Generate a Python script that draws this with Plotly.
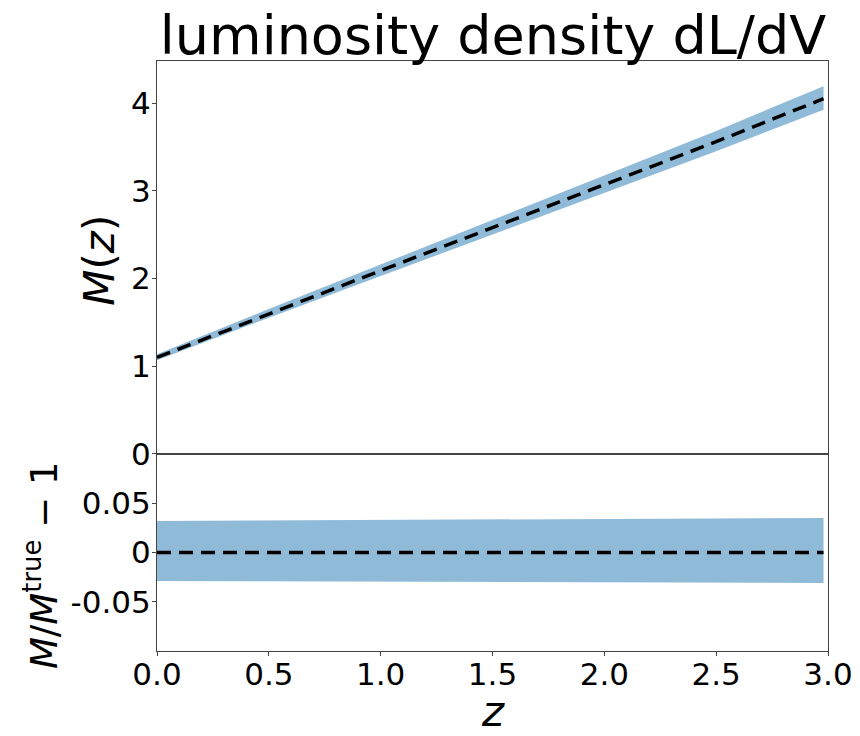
import plotly.graph_objects as go
from plotly.subplots import make_subplots

z = [0.0, 0.5, 1.0, 1.5, 2.0, 2.5, 2.98]
M_true = [1.10, 1.60, 2.09, 2.58, 3.07, 3.56, 4.05]
res_upper = [0.032, 0.0325, 0.033, 0.0335, 0.034, 0.0345, 0.035]
res_lower = [-0.029, -0.0293, -0.0297, -0.030, -0.0303, -0.0307, -0.031]
res_line = [0.0, 0.0, 0.0, 0.0, 0.0, 0.0, 0.0]

x_ticks = [0.0, 0.5, 1.0, 1.5, 2.0, 2.5, 3.0]
x_ticklabels = ["0.0", "0.5", "1.0", "1.5", "2.0", "2.5", "3.0"]
top_ticks = [0, 1, 2, 3, 4]
bot_ticks = [-0.05, 0, 0.05]
bot_ticklabels = ["-0.05", "0", "0.05"]

band_col = "rgba(31,119,180,0.5)"
font = "DejaVu Sans"

M_up = [m * (1 + u) for m, u in zip(M_true, res_upper)]
M_lo = [m * (1 + l) for m, l in zip(M_true, res_lower)]

fig = make_subplots(rows=2, cols=1, shared_xaxes=True, vertical_spacing=0,
                    row_heights=[0.666, 0.334])

fig.add_trace(go.Scatter(x=z, y=M_lo, mode="lines", line=dict(width=0),
                         showlegend=False, hoverinfo="skip"), row=1, col=1)
fig.add_trace(go.Scatter(x=z, y=M_up, mode="lines", line=dict(width=0),
                         fill="tonexty", fillcolor=band_col,
                         showlegend=False), row=1, col=1)
fig.add_trace(go.Scatter(x=z, y=M_true, mode="lines",
                         line=dict(color="black", width=3.5, dash="14px,8px"),
                         showlegend=False), row=1, col=1)

fig.add_trace(go.Scatter(x=z, y=res_lower, mode="lines", line=dict(width=0),
                         showlegend=False, hoverinfo="skip"), row=2, col=1)
fig.add_trace(go.Scatter(x=z, y=res_upper, mode="lines", line=dict(width=0),
                         fill="tonexty", fillcolor=band_col,
                         showlegend=False), row=2, col=1)
fig.add_trace(go.Scatter(x=z, y=res_line, mode="lines",
                         line=dict(color="black", width=3.5, dash="14px,8px"),
                         showlegend=False), row=2, col=1)

axis_common = dict(showline=True, mirror=True, linecolor="#444", linewidth=1.2,
                   showgrid=False, zeroline=False, ticks="outside", ticklen=4,
                   tickcolor="#444", automargin=False,
                   tickfont=dict(family=font, size=31, color="black"))

fig.update_xaxes(range=[0, 3.0], **axis_common)
fig.update_xaxes(showticklabels=False, ticks="", row=1, col=1)
fig.update_xaxes(tickvals=x_ticks, ticktext=x_ticklabels, ticklabelstandoff=-8,
                 row=2, col=1)
fig.update_yaxes(range=[0, 4.48], tickvals=top_ticks, row=1, col=1, **axis_common)
fig.update_yaxes(range=[-0.1, 0.1], tickvals=bot_ticks, ticktext=bot_ticklabels,
                 row=2, col=1, **axis_common)
fig.update_yaxes(ticklabelstandoff=-5)

fig.update_layout(
    width=860, height=736,
    margin=dict(l=149, r=40, t=53, b=93),
    plot_bgcolor="white", paper_bgcolor="white",
    title=dict(text="luminosity density dL/dV", x=0.564, xanchor="center",
               y=0.9636, yanchor="middle",
               font=dict(family=font, size=54, color="black")),
    annotations=[
        dict(text="<i>M</i>(<i>z</i>)", xref="paper", yref="paper",
             x=-0.085, y=0.663, xanchor="center", yanchor="middle",
             textangle=-90, showarrow=False,
             font=dict(family=font, size=42, color="black")),
        dict(text="<i>M</i>/<i>M</i><sup>true</sup> − 1", xref="paper", yref="paper",
             x=-0.171, y=0.146, xanchor="center", yanchor="middle",
             textangle=-90, showarrow=False,
             font=dict(family=font, size=37, color="black")),
        dict(text="<i>z</i>", xref="paper", yref="paper",
             x=0.5, y=-0.103, xanchor="center", yanchor="middle",
             showarrow=False,
             font=dict(family=font, size=42, color="black")),
    ],
)

fig.write_html("out.html")
